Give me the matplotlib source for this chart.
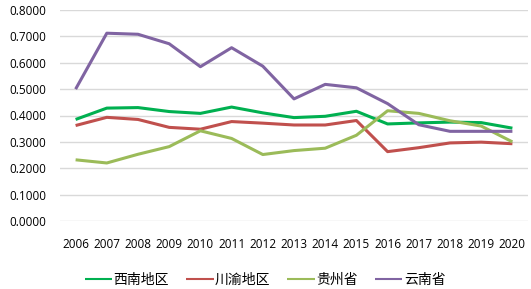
import matplotlib.pyplot as plt

plt.rcParams['font.family'] = ['Open Sans', 'Noto Sans CJK SC', 'DejaVu Sans']

# ---- data ----
years = list(range(2006, 2021))
xinan = [0.385, 0.428, 0.430, 0.415, 0.408, 0.432, 0.410, 0.392, 0.397, 0.416, 0.368, 0.372, 0.375, 0.373, 0.352]
chuanyu = [0.362, 0.393, 0.385, 0.355, 0.348, 0.377, 0.371, 0.364, 0.364, 0.381, 0.263, 0.278, 0.296, 0.299, 0.293]
guizhou = [0.232, 0.220, 0.253, 0.282, 0.342, 0.313, 0.252, 0.267, 0.276, 0.325, 0.418, 0.408, 0.380, 0.360, 0.300]
yunnan = [0.500, 0.712, 0.708, 0.672, 0.585, 0.657, 0.587, 0.463, 0.518, 0.505, 0.445, 0.365, 0.340, 0.340, 0.340]

series = [
    ("西南地区", xinan, "#00B050"),
    ("川渝地区", chuanyu, "#C0504D"),
    ("贵州省", guizhou, "#9BBB59"),
    ("云南省", yunnan, "#8064A2"),
]

fig = plt.figure(figsize=(5.31, 2.89), dpi=100)
ax = fig.add_axes([60/531, 1 - 221/289, 468/531, 211/289])

for name, vals, col in series:
    ax.plot(years, vals, color=col, lw=2.2, label=name, solid_capstyle='butt')

ax.set_xlim(2005.5, 2020.5)
ax.set_ylim(0, 0.8)
ax.set_yticks([i / 10 for i in range(9)])
ax.set_yticklabels([f"{i/10:.4f}" for i in range(9)], fontsize=8.5)
ax.set_xticks(years)
ax.set_xticklabels([str(y) for y in years], fontsize=8.5)
ax.tick_params(axis='x', length=0, pad=12)
ax.tick_params(axis='y', length=0, pad=10)
ax.grid(axis='y', color='#D9D9D9', lw=1)
ax.set_axisbelow(True)
for s in ax.spines.values():
    s.set_visible(False)

leg = fig.legend(loc='center', bbox_to_anchor=(265/531, 1 - 280/289), ncol=4,
                 frameon=False, handlelength=2.0, handletextpad=0.1,
                 columnspacing=1.2, prop={'family': ['Noto Sans CJK SC'], 'size': 10})
for line in leg.get_lines():
    line.set_linewidth(1.5)

fig.savefig("out.png", dpi=100)
